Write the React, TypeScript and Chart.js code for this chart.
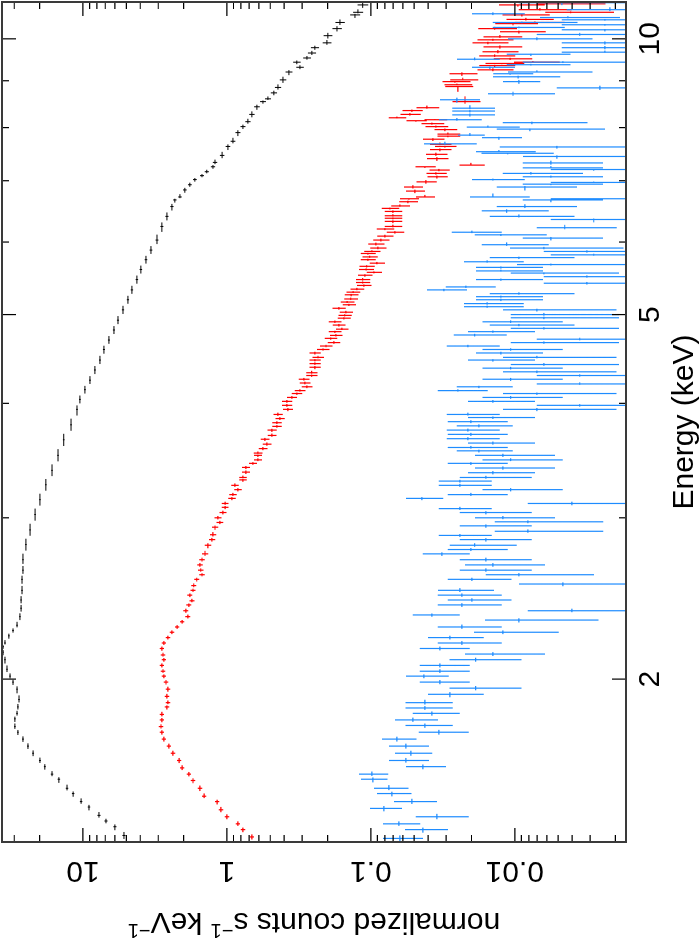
import React, { useEffect, useRef } from "react";
import { Chart, registerables } from "chart.js";

Chart.register(...registerables);

// [energy keV, normalized counts, relative error]
const blackData: [number, number, number][] = [
  [1.35,5.19,0.025],[1.38,6.00,0.025],[1.40,6.92,0.025],[1.42,7.74,0.025],[1.45,9.08,0.02],[1.47,10.3,0.02],[1.50,11.7,0.02],[1.52,12.9,0.02],[1.555,14.7,0.02],[1.575,16.4,0.02],[1.605,18.4,0.015],[1.63,19.9,0.015],[1.66,22.2,0.015],[1.69,24.1,0.015],[1.72,26.1,0.015],[1.75,28.3,0.012],[1.775,29.7,0.012],[1.81,29.7,0.012],[1.835,28.7,0.012],[1.865,28.3,0.012],[1.90,27.8,0.012],[1.95,28.7,0.012],[1.985,30.6,0.012],[2.015,32.1,0.012],[2.05,33.7,0.012],[2.10,34.8,0.012],[2.14,35.9,0.012],[2.17,35.9,0.012],[2.19,34.8,0.012],[2.23,32.7,0.012],[2.26,30.6,0.012],[2.29,28.7,0.012],[2.34,27.4,0.012],[2.39,26.9,0.012],[2.44,26.9,0.012],[2.50,26.5,0.012],[2.57,26.5,0.012],[2.63,26.1,0.012],[2.70,26.1,0.012],
  [2.805,24.9,0.012],[2.91,23.3,0.012],[3.025,21.5,0.012],[3.14,19.9,0.012],[3.26,18.1,0.012],[3.38,16.4,0.012],[3.51,14.9,0.013],[3.65,13.6,0.013],[3.79,12.1,0.013],[3.94,11.0,0.014],[4.04,10.5,0.014],[4.14,9.69,0.014],[4.24,8.94,0.015],[4.35,8.26,0.015],[4.46,7.62,0.015],[4.58,7.15,0.016],[4.69,6.60,0.016],[4.81,6.09,0.017],[4.93,5.71,0.017],[5.06,5.27,0.018],[5.19,4.87,0.018],[5.32,4.57,0.019],[5.46,4.22,0.02],[5.60,3.96,0.02],[5.74,3.65,0.021],[5.88,3.37,0.022],
  [6.03,3.06,0.023],[6.24,2.83,0.024],[6.40,2.61,0.025],[6.56,2.41,0.026],[6.67,2.30,0.027],[6.72,2.12,0.028],[6.84,1.96,0.029],[6.93,1.81,0.03],[7.02,1.67,0.03],[7.09,1.49,0.032],[7.16,1.38,0.033],[7.25,1.25,0.034],[7.33,1.21,0.035],[7.46,1.08,0.036],[7.63,0.984,0.037],[7.73,0.908,0.038],[7.90,0.839,0.04],[8.02,0.774,0.04],[8.12,0.715,0.042],[8.27,0.671,0.043],[8.43,0.619,0.045],[8.54,0.562,0.047],[8.60,0.519,0.048],[8.73,0.472,0.05],[8.85,0.442,0.05],[9.02,0.408,0.052],[9.20,0.371,0.055],[9.31,0.311,0.06],[9.43,0.327,0.06],[9.53,0.278,0.062],[9.65,0.257,0.065],[9.78,0.245,0.065],[9.90,0.202,0.07],[10.08,0.199,0.07],[10.26,0.172,0.075],[10.42,0.164,0.075],[10.62,0.129,0.08],[10.69,0.123,0.08],[10.89,0.114,0.085]
];

const redData: [number, number, number][] = [
  [1.345,0.671,0.035],[1.37,0.774,0.035],[1.39,0.839,0.035],[1.415,1.00,0.035],[1.44,1.10,0.035],[1.47,1.17,0.035],[1.49,1.44,0.035],[1.52,1.54,0.035],[1.55,1.72,0.035],[1.575,1.84,0.035],[1.60,2.05,0.035],[1.63,2.15,0.035],[1.66,2.37,0.035],[1.69,2.53,0.035],[1.72,2.74,0.035],[1.75,2.83,0.035],[1.775,2.87,0.035],[1.805,2.83,0.035],[1.83,2.83,0.035],[1.865,2.61,0.035],[1.885,2.57,0.035],[1.915,2.61,0.035],[1.95,2.57,0.035],[1.985,2.65,0.035],[2.015,2.74,0.035],[2.04,2.78,0.035],[2.07,2.83,0.035],[2.10,2.74,0.035],[2.125,2.78,0.035],[2.16,2.83,0.035],[2.19,2.74,0.035],[2.22,2.57,0.035],[2.25,2.41,0.035],[2.28,2.22,0.035],[2.31,2.05,0.035],[2.34,1.87,0.04],[2.375,1.93,0.04],[2.41,1.84,0.04],[2.435,1.75,0.04],[2.47,1.81,0.04],[2.50,1.72,0.04],[2.53,1.70,0.04],[2.57,1.62,0.04],[2.60,1.49,0.045],[2.63,1.52,0.045],[2.665,1.54,0.045],[2.70,1.49,0.045],
  [2.74,1.42,0.05],[2.80,1.355,0.05],[2.84,1.27,0.05],[2.875,1.25,0.05],[2.93,1.21,0.05],[2.965,1.12,0.055],[3.00,1.155,0.055],[3.04,1.066,0.055],[3.08,1.03,0.055],[3.11,1.03,0.055],[3.15,0.923,0.06],[3.18,0.908,0.06],[3.22,0.839,0.06],[3.255,0.880,0.06],[3.30,0.774,0.06],[3.32,0.774,0.06],[3.365,0.738,0.065],[3.405,0.738,0.065],[3.44,0.660,0.065],[3.47,0.609,0.065],[3.51,0.609,0.065],[3.53,0.609,0.07],[3.57,0.562,0.07],[3.61,0.527,0.07],[3.655,0.545,0.07],[3.69,0.487,0.07],[3.74,0.487,0.075],[3.775,0.450,0.075],[3.81,0.450,0.075],[3.85,0.428,0.075],[3.89,0.442,0.075],[3.94,0.377,0.08],[3.98,0.383,0.08],[4.02,0.383,0.08],[4.06,0.354,0.08],[4.10,0.327,0.085],[4.13,0.311,0.085],[4.17,0.278,0.085],[4.21,0.287,0.085],[4.25,0.292,0.085],[4.29,0.258,0.09],[4.32,0.258,0.09],[4.38,0.245,0.09],[4.42,0.245,0.09],[4.46,0.245,0.09],[4.49,0.233,0.09],[4.54,0.245,0.09],
  [4.58,0.215,0.1],[4.62,0.205,0.1],[4.66,0.181,0.1],[4.71,0.190,0.1],[4.745,0.175,0.1],[4.79,0.178,0.1],[4.82,0.159,0.1],[4.87,0.167,0.1],[4.91,0.178,0.1],[4.955,0.154,0.105],[4.99,0.152,0.105],[5.03,0.149,0.105],[5.08,0.167,0.105],[5.125,0.142,0.105],[5.16,0.146,0.11],[5.20,0.138,0.11],[5.255,0.137,0.11],[5.29,0.133,0.11],[5.33,0.125,0.11],[5.38,0.112,0.115],[5.42,0.114,0.115],[5.46,0.114,0.115],[5.52,0.110,0.115],[5.56,0.0953,0.12],[5.60,0.108,0.12],[5.645,0.107,0.12],[5.69,0.0908,0.12],[5.74,0.105,0.12],[5.78,0.102,0.12],[5.83,0.105,0.12],
  [5.86,0.0984,0.13],[5.91,0.0894,0.13],[5.97,0.0923,0.13],[6.03,0.0852,0.13],[6.09,0.0799,0.13],[6.15,0.0681,0.14],[6.20,0.0799,0.14],[6.24,0.0703,0.14],[6.32,0.0703,0.14],[6.37,0.0703,0.14],[6.41,0.0703,0.14],[6.48,0.0703,0.14],[6.53,0.0738,0.14],[6.57,0.0629,0.15],[6.64,0.0553,0.15],[6.69,0.0545,0.15],[6.72,0.0422,0.15],[6.82,0.0495,0.15],[6.89,0.0511,0.15],[6.98,0.0415,0.16],[7.07,0.0348,0.16],[7.13,0.0354,0.16],[7.19,0.0337,0.16],[7.25,0.0422,0.16],[7.28,0.0202,0.2],[7.40,0.0348,0.17],[7.48,0.0354,0.17],[7.57,0.0332,0.17],[7.63,0.0306,0.17],[7.67,0.0332,0.17],[7.77,0.0371,0.17],[7.83,0.0292,0.18],[7.87,0.0292,0.18],[7.96,0.0306,0.18],[8.02,0.0354,0.18],[8.08,0.0377,0.18],
  [8.14,0.0487,0.16],[8.16,0.0359,0.18],[8.20,0.066,0.14],[8.27,0.0536,0.16],[8.35,0.0519,0.16],[8.41,0.0408,0.18],[8.54,0.0222,0.22],[8.87,0.0249,0.22],[8.91,0.0253,0.22],[8.98,0.0261,0.22],[9.02,0.0230,0.22],[9.16,0.0233,0.22],[9.25,0.0142,0.28],[9.35,0.0138,0.28],[9.40,0.0123,0.3],[9.43,0.0075,0.35],[9.51,0.0108,0.3],[9.58,0.0138,0.28],[9.68,0.0131,0.28],[9.80,0.0127,0.3],[9.90,0.0154,0.28],[9.975,0.0142,0.28],[10.05,0.0127,0.3],[10.18,0.00938,0.35],[10.26,0.0138,0.3],[10.39,0.0103,0.33],[10.42,0.00726,0.38],[10.50,0.00839,0.36],[10.62,0.00894,0.36],[10.69,0.0041,0.5],[10.76,0.0067,0.4],[10.89,0.00953,0.35],[10.92,0.0047,0.5]
];

const blueData: [number, number, number][] = [
  [1.34,0.0629,0.31],[1.37,0.0435,0.33],[1.39,0.0639,0.29],[1.415,0.0348,0.40],[1.445,0.0812,0.25],[1.47,0.0519,0.33],[1.50,0.0715,0.27],[1.52,0.0750,0.27],[1.555,0.0969,0.21],[1.575,0.0984,0.23],[1.605,0.0435,0.31],[1.63,0.0571,0.31],[1.66,0.0527,0.29],[1.69,0.0571,0.31],[1.72,0.0660,0.27],[1.75,0.0337,0.38],[1.78,0.0422,0.36],[1.805,0.0511,0.33],[1.835,0.0377,0.36],[1.86,0.0422,0.36],[1.885,0.0422,0.36],[1.925,0.0283,0.42],[1.955,0.0187,0.52],[1.985,0.0332,0.38],[2.015,0.0429,0.33],[2.04,0.0332,0.38],[2.07,0.0332,0.38],[2.10,0.0187,0.52],[2.13,0.0142,0.565],[2.16,0.0332,0.38],[2.19,0.0233,0.47],[2.22,0.0283,0.42],[2.25,0.0121,0.59],[2.28,0.0233,0.47],[2.32,0.00938,0.72],[2.35,0.0377,0.36],[2.375,0.00402,1.02],[2.41,0.0233,0.47],[2.44,0.0199,0.47],[2.47,0.0233,0.47],[2.50,0.0241,0.42],[2.54,0.00464,1.02],[2.57,0.0199,0.47],[2.60,0.00938,0.70],[2.63,0.0159,0.52],[2.665,0.0142,0.565],[2.70,0.0159,0.52],
  [2.74,0.0321,0.36],[2.77,0.0202,0.445],[2.80,0.0190,0.49],[2.84,0.0159,0.52],[2.87,0.0241,0.40],[2.90,0.00812,0.70],[2.94,0.0159,0.52],[2.97,0.00812,0.70],[3.00,0.0121,0.565],[3.04,0.0159,0.52],[3.07,0.0241,0.40],[3.11,0.00402,1.02],[3.15,0.0442,0.29],[3.18,0.0202,0.445],[3.22,0.0107,0.565],[3.255,0.0241,0.40],[3.29,0.0241,0.40],[3.32,0.0159,0.52],[3.36,0.0142,0.49],[3.40,0.0121,0.565],[3.44,0.0202,0.445],[3.47,0.0107,0.565],[3.51,0.0121,0.565],[3.55,0.0178,0.42],[3.58,0.0202,0.445],[3.62,0.0142,0.49],[3.66,0.0212,0.40],[3.70,0.0202,0.445],[3.74,0.0212,0.40],[3.78,0.0178,0.42],[3.82,0.0202,0.445],[3.86,0.0142,0.49],[3.89,0.0212,0.40],[3.94,0.00703,0.72],[3.98,0.00354,0.99],[4.02,0.0142,0.49],[4.06,0.0107,0.565],[4.10,0.00703,0.72],[4.13,0.0249,0.38],[4.17,0.0178,0.42],[4.20,0.00354,0.99],[4.25,0.0107,0.565],[4.29,0.00354,0.99],[4.33,0.00703,0.72],[4.37,0.0107,0.565],[4.41,0.00629,0.70],[4.46,0.0142,0.49],[4.49,0.00703,0.72],[4.54,0.0125,0.49],[4.58,0.0107,0.565],[4.62,0.0212,0.40],[4.66,0.00629,0.70],[4.70,0.00354,0.99],[4.75,0.0190,0.40],[4.79,0.0142,0.49],[4.83,0.00629,0.70],[4.87,0.00938,0.59],[4.91,0.0107,0.565],[4.96,0.00629,0.70],[5.00,0.00629,0.70],[5.06,0.00703,0.72],[5.10,0.0156,0.445],[5.14,0.0156,0.445],[5.19,0.0125,0.49],[5.23,0.0125,0.49],[5.27,0.00938,0.59],[5.32,0.0311,0.31],[5.36,0.0219,0.38],[5.41,0.00316,0.99],[5.46,0.0125,0.49],[5.50,0.00316,0.99],[5.55,0.00629,0.70],[5.58,0.0125,0.49],[5.63,0.0125,0.49],[5.67,0.00562,0.72],[5.71,0.0156,0.445],[5.77,0.00938,0.59],[5.81,0.00283,0.99],[5.86,0.00316,0.99],
  [5.91,0.00629,0.72],[5.96,0.0114,0.49],[6.06,0.00562,0.565],[6.11,0.0125,0.52],[6.15,0.0199,0.38],[6.22,0.0045,0.565],[6.35,0.00283,0.99],[6.40,0.00938,0.59],[6.49,0.0114,0.49],[6.56,0.00852,0.565],[6.67,0.00562,0.565],[6.69,0.00283,0.99],[6.72,0.0142,0.445],[6.89,0.00852,0.565],[6.94,0.00562,0.565],[6.97,0.00283,0.99],[7.02,0.0142,0.40],[7.07,0.00562,0.565],[7.13,0.00774,0.565],[7.20,0.00283,0.99],[7.23,0.00562,0.565],[7.32,0.00562,0.565],[7.44,0.0051,0.72],[7.50,0.0112,0.52],[7.53,0.0129,0.445],[7.62,0.0051,1.5],[7.68,0.0306,0.40],[7.80,0.0129,0.31],[7.85,0.0205,0.21],[7.97,0.00787,0.70],[8.01,0.0154,0.40],[8.10,0.00762,0.59],[8.16,0.0253,0.33],[8.26,0.0205,0.33],[8.34,0.0205,0.33],[8.40,0.0205,0.33],[8.58,0.0253,0.31],[8.71,0.0103,0.49],[8.84,0.00257,0.99],[8.98,0.00938,0.29],[9.09,0.0095,0.49],[9.16,0.0108,0.31],[9.20,0.00703,0.59],[9.31,0.0149,0.33],[9.37,0.00774,0.47],[9.43,0.00464,0.90],[9.50,0.0190,0.33],[9.62,0.00774,0.47],[9.67,0.00237,0.99],[9.78,0.00237,0.99],[9.90,0.00237,0.99],[10.00,0.00703,0.59],[10.11,0.00354,0.99],[10.23,0.00237,0.99],[10.29,0.00938,0.52],[10.36,0.00237,0.99],[10.42,0.00894,0.59],[10.49,0.00237,0.99],[10.55,0.00428,0.565],[10.65,0.0142,0.40],[10.76,0.00219,0.99],[10.95,0.00472,0.99]
];

const energyMin = 1.328;
const energyMax = 10.97;
const countsMin = 0.00169;
const countsMax = 36.5;

const energyTicks = [2, 3, 4, 5, 6, 7, 8, 9, 10];
const energyLabels = [2, 5, 10];
const countTicks = [0.002,0.003,0.004,0.005,0.006,0.007,0.008,0.009,0.01,0.02,0.03,0.04,0.05,0.06,0.07,0.08,0.09,0.1,0.2,0.3,0.4,0.5,0.6,0.7,0.8,0.9,1,2,3,4,5,6,7,8,9,10,20,30];
const countLabels: [number, string][] = [[0.01, "0.01"], [0.1, "0.1"], [1, "1"], [10, "10"]];

const xTitle = "Energy (keV)";
const yTitleParts: [string, boolean][] = [["normalized counts s", false], ["\u22121", true], [" keV", false], ["\u22121", true]];

const FONT = '"Liberation Sans", Arial, Helvetica, sans-serif';

function toPoints(rows: [number, number, number][], widthFrac: number) {
  const sorted = [...rows].sort((a, b) => a[0] - b[0]);
  return sorted.map((r, i) => {
    const lg = Math.log10(r[0]);
    const prev = i > 0 ? Math.log10(sorted[i - 1][0]) : null;
    const next = i < sorted.length - 1 ? Math.log10(sorted[i + 1][0]) : null;
    const gl = prev !== null ? lg - prev : (next as number) - lg;
    const gr = next !== null ? next - lg : lg - (prev as number);
    return {
      x: r[0],
      y: r[1],
      xl: Math.pow(10, lg - widthFrac * gl),
      xh: Math.pow(10, lg + widthFrac * gr),
      yl: r[1] * (1 - r[2]),
      yh: r[1] * (1 + r[2]),
    };
  });
}

const errorBarPlugin = {
  id: "errorBars",
  afterDatasetsDraw(chart: any) {
    const { ctx, chartArea } = chart;
    const xs = chart.scales.x;
    const ys = chart.scales.y;
    ctx.save();
    ctx.beginPath();
    ctx.rect(chartArea.left, chartArea.top, chartArea.right - chartArea.left, chartArea.bottom - chartArea.top);
    ctx.clip();
    chart.data.datasets.forEach((ds: any) => {
      ctx.strokeStyle = ds.borderColor;
      ctx.lineWidth = ds.borderWidth;
      ctx.beginPath();
      for (const p of ds.data) {
        const px = xs.getPixelForValue(p.x);
        const py = ys.getPixelForValue(p.y);
        const x0 = xs.getPixelForValue(p.xl);
        const x1 = xs.getPixelForValue(p.xh);
        const y0 = p.yl > countsMin ? ys.getPixelForValue(p.yl) : chartArea.bottom + 5;
        const y1 = ys.getPixelForValue(p.yh);
        ctx.moveTo(x0, py);
        ctx.lineTo(x1, py);
        ctx.moveTo(px, y0);
        ctx.lineTo(px, y1);
      }
      ctx.stroke();
    });
    ctx.restore();
  },
};

const framePlugin = {
  id: "frameAxes",
  afterDraw(chart: any) {
    const { ctx, chartArea } = chart;
    const { left, right, top, bottom } = chartArea;
    const xs = chart.scales.x;
    const ys = chart.scales.y;
    ctx.save();
    ctx.strokeStyle = "#000";
    ctx.lineWidth = 1.2;
    ctx.beginPath();
    for (const t of energyTicks) {
      const px = xs.getPixelForValue(t);
      const len = energyLabels.includes(t) ? 14 : 7;
      ctx.moveTo(px, bottom);
      ctx.lineTo(px, bottom - len);
      ctx.moveTo(px, top);
      ctx.lineTo(px, top + len);
    }
    for (const t of countTicks) {
      const py = ys.getPixelForValue(t);
      const major = countLabels.some((c) => c[0] === t);
      const len = major ? 14 : 7;
      ctx.moveTo(left, py);
      ctx.lineTo(left + len, py);
      ctx.moveTo(right, py);
      ctx.lineTo(right - len, py);
    }
    ctx.stroke();

    ctx.strokeStyle = "#3a3a3a";
    ctx.lineWidth = 2;
    ctx.strokeRect(left, top, right - left, bottom - top);

    ctx.fillStyle = "#000";
    ctx.font = `30px ${FONT}`;
    ctx.textAlign = "center";
    ctx.textBaseline = "alphabetic";
    for (const t of energyLabels) {
      ctx.fillText(String(t), xs.getPixelForValue(t), bottom + 33);
    }
    ctx.fillText(xTitle, (left + right) / 2, bottom + 67);

    for (const [v, lab] of countLabels) {
      ctx.save();
      ctx.translate(left - 20, ys.getPixelForValue(v));
      ctx.rotate(-Math.PI / 2);
      ctx.textAlign = "center";
      ctx.fillText(lab, 0, 0);
      ctx.restore();
    }

    // y title with superscripts
    const big = `30px ${FONT}`;
    const small = `20px ${FONT}`;
    let total = 0;
    const widths: number[] = [];
    for (const [txt, sup] of yTitleParts) {
      ctx.font = sup ? small : big;
      const w = ctx.measureText(txt).width;
      widths.push(w);
      total += w;
    }
    ctx.save();
    ctx.translate(left - 71, (top + bottom) / 2);
    ctx.rotate(-Math.PI / 2);
    ctx.textAlign = "left";
    let cx = -total / 2;
    yTitleParts.forEach(([txt, sup], i) => {
      ctx.font = sup ? small : big;
      ctx.fillText(txt, cx, sup ? -11 : 0);
      cx += widths[i];
    });
    ctx.restore();
    ctx.restore();
  },
};

export default function App() {
  const ref = useRef<HTMLCanvasElement>(null);
  useEffect(() => {
    if (!ref.current) return;
    const chart = new Chart(ref.current, {
      type: "scatter",
      data: {
        datasets: [
          { label: "black", data: toPoints(blackData, 0.4) as any, borderColor: "#000000", borderWidth: 1, pointRadius: 0, showLine: false },
          { label: "red", data: toPoints(redData, 0.35) as any, borderColor: "#ff0000", borderWidth: 1.2, pointRadius: 0, showLine: false },
          { label: "blue", data: toPoints(blueData, 0.35) as any, borderColor: "rgb(30,140,255)", borderWidth: 1.2, pointRadius: 0, showLine: false },
        ],
      },
      options: {
        responsive: false,
        animation: false,
        devicePixelRatio: 1,
        layout: { padding: { left: 101, right: 2, top: 2, bottom: 74 } },
        scales: {
          x: { type: "logarithmic", min: energyMin, max: energyMax, display: false },
          y: { type: "logarithmic", min: countsMin, max: countsMax, display: false },
        },
        plugins: { legend: { display: false }, tooltip: { enabled: false } },
      },
      plugins: [errorBarPlugin, framePlugin],
    });
    return () => chart.destroy();
  }, []);
  return (
    <div style={{ position: "fixed", left: 0, top: 0, width: 700, height: 943, overflow: "hidden", background: "#fff" }}>
      <div
        style={{
          position: "absolute",
          left: 0,
          top: 0,
          width: 943,
          height: 700,
          transformOrigin: "0 0",
          transform: "translate(0px, 943px) rotate(-90deg)",
        }}
      >
        <canvas ref={ref} width={943} height={700} style={{ display: "block", width: 943, height: 700 }} />
      </div>
    </div>
  );
}
